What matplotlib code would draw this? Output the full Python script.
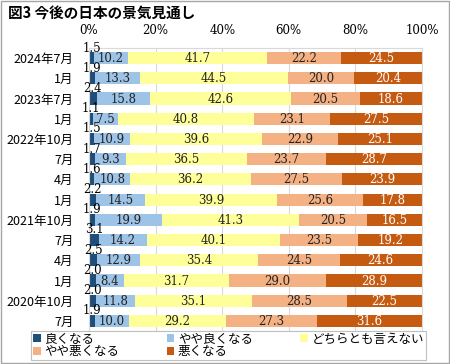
import matplotlib.pyplot as plt
import numpy as np

plt.rcParams['font.family'] = ['Noto Sans CJK JP', 'DejaVu Sans']

periods = ["2024年7月", "1月", "2023年7月", "1月", "2022年10月", "7月", "4月",
           "1月", "2021年10月", "7月", "4月", "1月", "2020年10月", "7月"]
series_names = ["良くなる", "やや良くなる", "どちらとも言えない", "やや悪くなる", "悪くなる"]
good = [1.5, 1.9, 2.4, 1.1, 1.5, 1.7, 1.6, 2.2, 1.9, 3.1, 2.5, 2.0, 2.0, 1.9]
slightly_good = [10.2, 13.3, 15.8, 7.5, 10.9, 9.3, 10.8, 14.5, 19.9, 14.2, 12.9, 8.4, 11.8, 10.0]
neutral = [41.7, 44.5, 42.6, 40.8, 39.6, 36.5, 36.2, 39.9, 41.3, 40.1, 35.4, 31.7, 35.1, 29.2]
slightly_bad = [22.2, 20.0, 20.5, 23.1, 22.9, 23.7, 27.5, 25.6, 20.5, 23.5, 24.5, 29.0, 28.5, 27.3]
bad = [24.5, 20.4, 18.6, 27.5, 25.1, 28.7, 23.9, 17.8, 16.5, 19.2, 24.6, 28.9, 22.5, 31.6]
colores = ["#1f4e79", "#9dc3e6", "#ffff99", "#f4b183", "#c55a11"]

fig = plt.figure(figsize=(4.5, 3.64), dpi=100)
ax = fig.add_axes([89 / 450, 1 - 331 / 364, 333 / 450, 283 / 364])

y = np.arange(len(periods))
left = np.zeros(len(periods))
handles = []
for i, vals in enumerate([good, slightly_good, neutral, slightly_bad, bad]):
    vals = np.array(vals)
    h = ax.barh(y, vals, left=left, height=0.6, color=colores[i], label=series_names[i])
    handles.append(h)
    for j, v in enumerate(vals):
        cx = left[j] + v / 2
        if i == 0:
            ax.text(cx, y[j] - 0.5, f"{v:.1f}", ha="center", va="center",
                    family="DejaVu Serif", fontsize=8.5, color="black")
        else:
            ax.text(cx, y[j] + 0.03, f"{v:.1f}", ha="center", va="center",
                    family="DejaVu Serif", fontsize=8.5,
                    color="white" if i == 4 else "#222222")
    left += vals

ax.set_xlim(0, 100)
ax.set_ylim(len(periods) - 0.5, -0.5)
ax.set_yticks(y)
ax.set_yticklabels(periods, fontsize=9)
ax.set_xticks([0, 20, 40, 60, 80, 100])
ax.set_xticklabels([f"{t}%" for t in [0, 20, 40, 60, 80, 100]], family="DejaVu Serif", fontsize=8.5)
ax.xaxis.tick_top()
ax.tick_params(axis="y", length=0, pad=11)
ax.tick_params(axis="x", length=0, pad=8)
ax.grid(axis="x", color="#d9d9d9", linewidth=0.8)
ax.set_axisbelow(True)
for s in ax.spines.values():
    s.set_color("#d9d9d9")
    s.set_linewidth(0.8)

fig.text(8 / 450, 1 - 14 / 364, "図3 今後の日本の景気見通し", fontsize=10.5, fontweight="bold",
         va="center", ha="left")

orden = [0, 3, 1, 4, 2]
leg = fig.legend([handles[k] for k in orden], [series_names[k] for k in orden], ncol=3,
                 loc="center", bbox_to_anchor=(25 / 450, 1 - 358 / 364, 407 / 450, 25 / 364),
                 mode="expand", fontsize=9, handlelength=0.6, handleheight=0.6,
                 handletextpad=0.3, labelspacing=0.0, borderpad=0.15, columnspacing=1.0,
                 fancybox=False, edgecolor="#bfbfbf", framealpha=1)
leg.get_frame().set_linewidth(0.8)

fig.patches.append(plt.Rectangle((0.002, 0.003), 0.995, 0.994, transform=fig.transFigure,
                                 fill=False, edgecolor="#a6a6a6", linewidth=1))

fig.savefig("out.png", dpi=100)
